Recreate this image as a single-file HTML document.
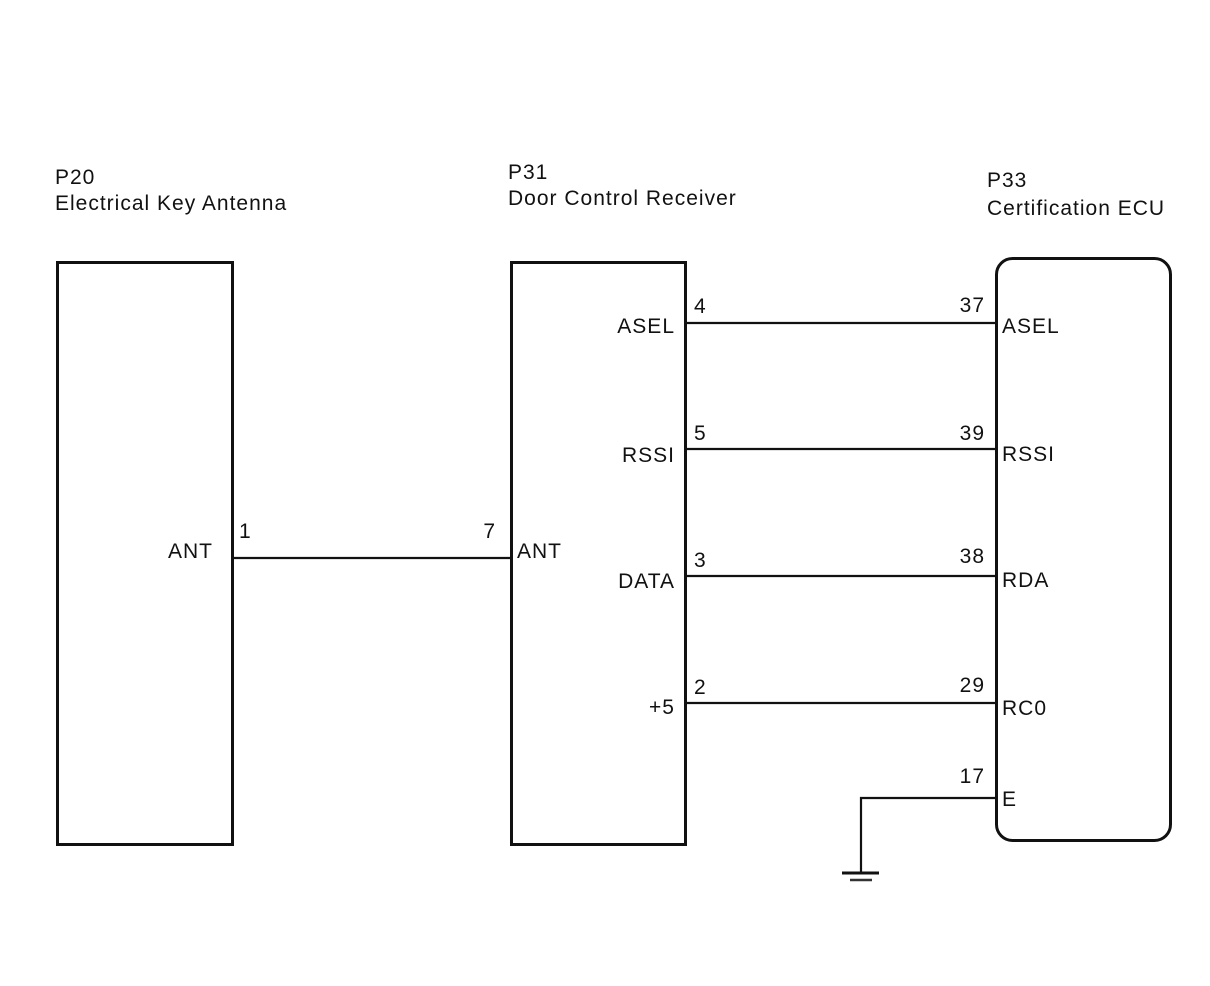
<!DOCTYPE html>
<html><head><style>
html,body{margin:0;padding:0;background:#fff;}
svg{display:block;}
text{font-family:"Liberation Sans",sans-serif;font-size:21px;letter-spacing:1px;fill:#111;}
</style></head><body>
<svg width="1210" height="986" viewBox="0 0 1210 986">
<g fill="none" stroke="#111" stroke-width="3">
<rect x="57.5" y="262.5" width="175" height="582"/>
<rect x="511.5" y="262.5" width="174" height="582"/>
<rect x="996.5" y="258.5" width="174" height="582" rx="16"/>
</g>
<g stroke="#111" stroke-width="2.2" fill="none">
<line x1="232" y1="558" x2="511" y2="558"/>
<line x1="686" y1="323" x2="996" y2="323"/>
<line x1="686" y1="449" x2="996" y2="449"/>
<line x1="686" y1="576" x2="996" y2="576"/>
<line x1="686" y1="703" x2="996" y2="703"/>
<polyline points="996,798 861,798 861,873"/>
</g>
<line x1="842" y1="873" x2="879" y2="873" stroke="#111" stroke-width="3"/>
<line x1="850" y1="880" x2="872" y2="880" stroke="#333" stroke-width="2.5"/>
<text x="55" y="184">P20</text>
<text x="55" y="210">Electrical Key Antenna</text>
<text x="508" y="179">P31</text>
<text x="508" y="205">Door Control Receiver</text>
<text x="987" y="187">P33</text>
<text x="987" y="215">Certification ECU</text>
<g text-anchor="end">
<text x="213" y="558">ANT</text>
<text x="675" y="333">ASEL</text>
<text x="675" y="462">RSSI</text>
<text x="675" y="588">DATA</text>
<text x="675" y="714">+5</text>
<text x="496" y="538">7</text>
<text x="985" y="312">37</text>
<text x="985" y="440">39</text>
<text x="985" y="563">38</text>
<text x="985" y="692">29</text>
<text x="985" y="783">17</text>
</g>
<text x="239" y="538">1</text>
<text x="517" y="558">ANT</text>
<text x="694" y="313">4</text>
<text x="694" y="440">5</text>
<text x="694" y="567">3</text>
<text x="694" y="694">2</text>
<text x="1002" y="333">ASEL</text>
<text x="1002" y="461">RSSI</text>
<text x="1002" y="587">RDA</text>
<text x="1002" y="715">RC0</text>
<text x="1002" y="806">E</text>
</svg>
</body></html>
